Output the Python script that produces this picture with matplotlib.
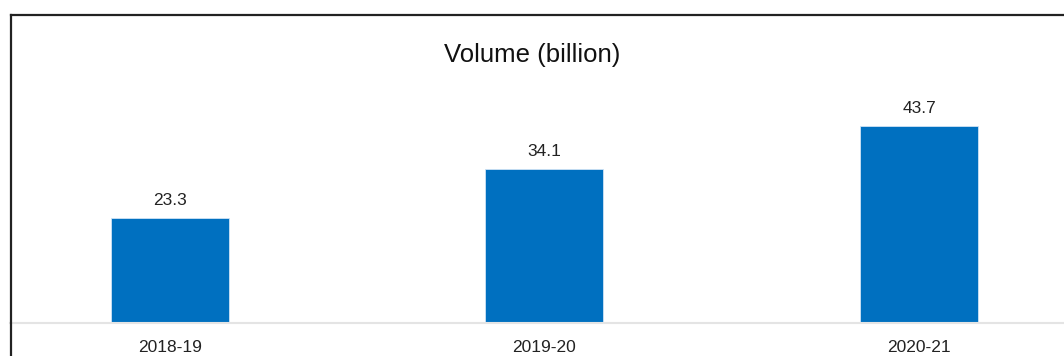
import matplotlib
matplotlib.use("Agg")
import matplotlib.pyplot as plt
from matplotlib.lines import Line2D

plt.rcParams['font.family'] = ['Liberation Sans', 'DejaVu Sans']

years = ["2018-19", "2019-20", "2020-21"]
volume = [23.3, 34.1, 43.7]

W, H = 1064, 356
fig = plt.figure(figsize=(W / 100, H / 100), dpi=100)

# axes spans from the left frame to the right edge, baseline at y=323px
ax = fig.add_axes([10 / W, (H - 323) / H, 1 - 10 / W, (323 - 14) / H])
x = range(len(years))
ax.bar(x, volume, width=0.315, color="#0070C0", edgecolor="#cfe3f5", linewidth=0.6)

for xi, v in zip(x, volume):
    ax.annotate(f"{v}", (xi, v), xytext=(0, 7), textcoords="offset points",
                ha="center", va="bottom", fontsize=12.5, color="#222222")

ax.set_xlim(-0.427, 2.387)
ax.set_ylim(0, 68.4)
ax.set_xticks(list(x))
ax.set_xticklabels(years, fontsize=12.5, color="#222222")
ax.tick_params(axis="x", length=0, pad=12)
ax.set_yticks([])
for side in ["left", "right", "top"]:
    ax.spines[side].set_visible(False)
ax.spines["bottom"].set_color("#e4e4e4")
ax.spines["bottom"].set_linewidth(1.5)

fig.text(532 / W, 1 - 55 / H, "Volume (billion)", ha="center", va="center",
         fontsize=18.5, color="#111111")

# outer frame lines (left and top only, picture is cropped)
fig.add_artist(Line2D([10.5 / W, 10.5 / W], [0, 1 - 14.5 / H], color="#222222", linewidth=1.6))
fig.add_artist(Line2D([10.5 / W, 1], [1 - 14.5 / H, 1 - 14.5 / H], color="#222222", linewidth=1.6))

fig.savefig("out.png", dpi=100)
